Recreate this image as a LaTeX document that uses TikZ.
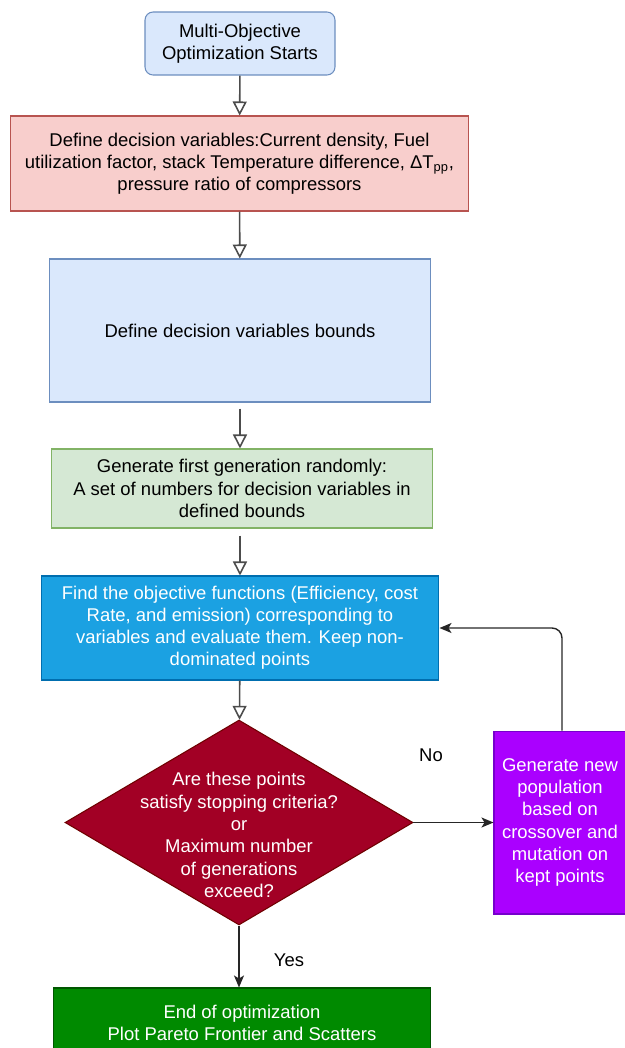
\documentclass[tikz,border=0pt]{standalone}
\usepackage{fontspec}
\setmainfont{Liberation Sans}
\usetikzlibrary{arrows.meta,shapes.geometric}

\definecolor{lblue}{HTML}{DAE8FC}   \definecolor{lblueline}{HTML}{6C8EBF}
\definecolor{lred}{HTML}{F8CECC}    \definecolor{lredline}{HTML}{B85450}
\definecolor{lgreen}{HTML}{D5E8D4}  \definecolor{lgreenline}{HTML}{82B366}
\definecolor{sky}{HTML}{1BA1E2}     \definecolor{skyline}{HTML}{006EAF}
\definecolor{wine}{HTML}{A20025}    \definecolor{wineline}{HTML}{6F0000}
\definecolor{violet}{HTML}{AA00FF}  \definecolor{violetline}{HTML}{7700CC}
\definecolor{dgreen}{HTML}{008A00}  \definecolor{dgreenline}{HTML}{005700}

\tikzset{
    box/.style={draw, line width=0.6pt, align=center, inner sep=2pt,
        font=\fontsize{10.5}{12.6}\selectfont},
    flow/.style={line width=0.9pt, draw=black!70,
        -{Triangle[open, length=0.28cm, width=0.28cm]}},
    link/.style={line width=0.8pt, draw=black!85,
        -{Stealth[length=0.24cm, width=0.2cm, inset=0.06cm]}},
}

\begin{document}
\begin{tikzpicture}[x=0.02cm, y=-0.02cm]
    \clip (0,0) rectangle (625,1048);

    % Etapas principais
    \node[box, fill=lblue, draw=lblueline, rounded corners=0.16cm,
        minimum width=3.8cm, minimum height=1.26cm] (start) at (240,43.5)
        {Multi-Objective\\Optimization Starts};
    \node[box, fill=lred, draw=lredline, minimum width=9.18cm, minimum height=1.9cm]
        (vars) at (239.5,163.5)
        {Define decision variables:Current density, Fuel\\
         utilization factor, stack Temperature difference, ΔT\textsubscript{pp},\\
         pressure ratio of compressors};
    \node[box, fill=lblue, draw=lblueline, minimum width=7.64cm, minimum height=2.86cm]
        (bounds) at (240,330.5) {Define decision variables bounds};
    \node[box, fill=lgreen, draw=lgreenline, minimum width=7.64cm, minimum height=1.58cm]
        (first) at (242,488.5)
        {Generate first generation randomly:\\
         A set of numbers for decision variables in\\defined bounds};
    \node[box, fill=sky, draw=skyline, text=white, minimum width=7.96cm,
        minimum height=2.08cm] (evaluate) at (240,628)
        {Find the objective functions (Efficiency, cost\\
         Rate, and emission) corresponding to\\
         variables and evaluate them. Keep non-\\dominated points};

    % Decisão
    \node[diamond, draw=wineline, fill=wine, line width=0.6pt, inner sep=0pt,
        minimum width=6.96cm, minimum height=4.1cm] (check) at (239,822.5) {};
    \node[align=center, text=white, font=\fontsize{10.5}{12.7}\selectfont]
        (checktext) at (239,835)
        {Are these points\\satisfy stopping criteria?\\or\\Maximum number\\
         of generations\\exceed?};

    \node[box, fill=violet, draw=violetline, text=white, minimum width=2.64cm,
        minimum height=3.66cm] (newpop) at (560,822.5)
        {Generate new\\population\\based on\\crossover and\\mutation on\\kept points};
    \node[box, fill=dgreen, draw=dgreenline, text=white, minimum width=7.56cm,
        minimum height=1.4cm] (finish) at (242,1023)
        {End of optimization\\Plot Pareto Frontier and Scatters};

    % Setas
    \draw[flow] (start) -- (vars);
    \draw[flow] (vars) -- (bounds);
    \draw[flow, shorten <=0.12cm] (bounds.south) -- (bounds.south |- first.north);
    \draw[flow, shorten <=0.14cm] (first.south -| evaluate.south) -- (evaluate.north);
    \draw[flow] (evaluate) -- (check);
    \draw[link] (check.east) -- (newpop.west);
    \draw[link] (check.south) -- (check.south |- finish.north);
    \draw[link, rounded corners=0.2cm] (newpop.north) ++(2,0) |- (evaluate.east);

    \node[font=\fontsize{10.5}{12.6}\selectfont] (no) at (431,755) {No};
    \node[font=\fontsize{10.5}{12.6}\selectfont] (yes) at (289,960) {Yes};
\end{tikzpicture}
\end{document}
